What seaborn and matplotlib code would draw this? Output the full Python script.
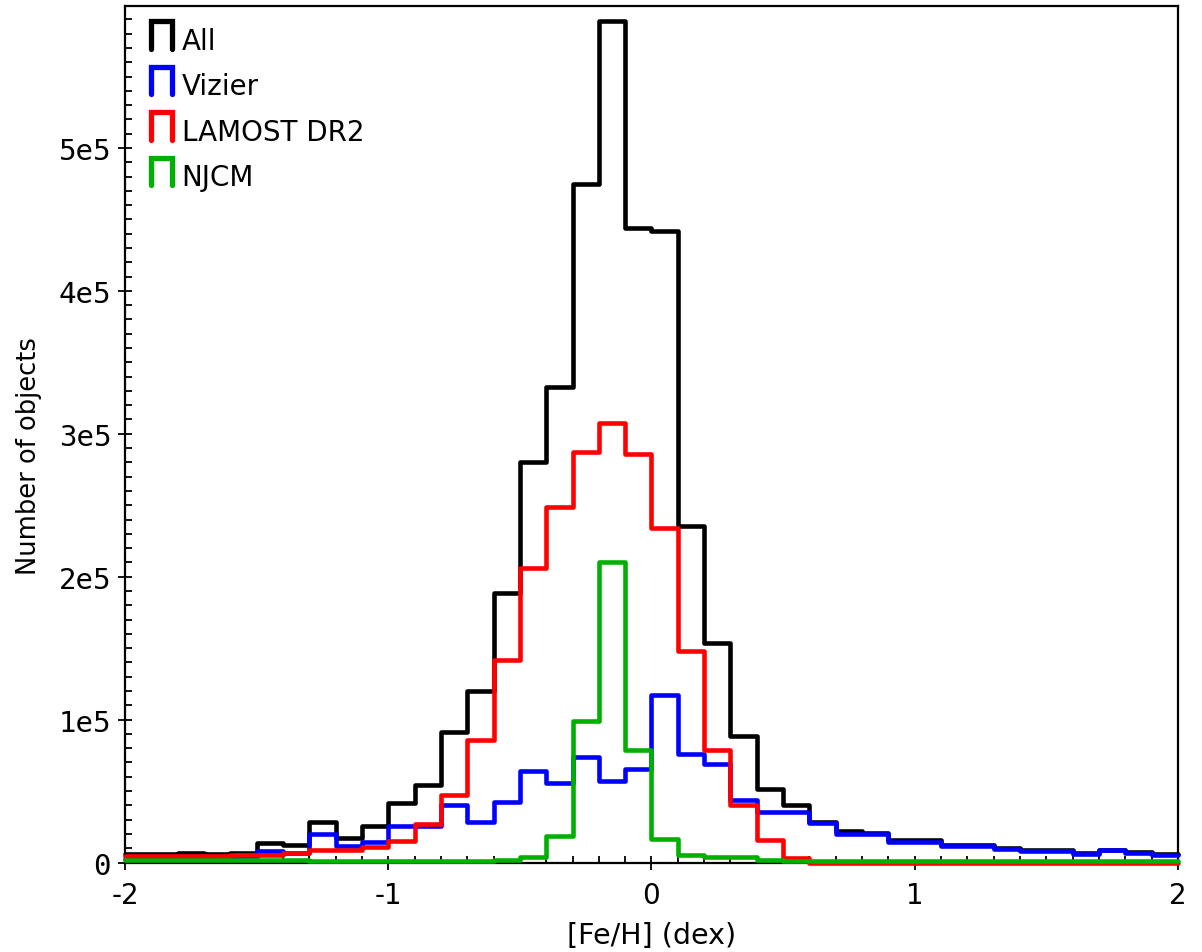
import numpy as np
import pandas as pd
import matplotlib
matplotlib.use("Agg")
import matplotlib.pyplot as plt
import seaborn as sns
from matplotlib.lines import Line2D
from matplotlib.legend_handler import HandlerBase
from matplotlib.ticker import MultipleLocator, FuncFormatter

# [Fe/H] bins: 0.1 dex wide from -2 to 2
bin_width = 0.1
bin_range = (-2.0, 2.0)
bin_centers = np.round(np.arange(-1.95, 2.0, 0.1), 2)

# Counts per bin for each source
all_counts = [5700, 6000, 7000, 5700, 7000, 13700, 12300, 28600, 16900, 25300,
              41700, 54300, 91100, 120000, 188600, 280600, 332600, 475000, 588600, 444000,
              442000, 235300, 153400, 88800, 51500, 40000, 28600, 22000, 20500, 15500,
              15500, 12500, 12500, 10000, 8600, 8600, 6700, 9000, 7500, 5800]
vizier_counts = [2500, 3000, 3000, 3000, 4000, 8300, 6400, 20000, 11800, 14600,
                 25300, 25300, 40200, 28600, 42100, 64300, 55600, 74100, 57300, 65500,
                 117500, 75700, 69200, 43800, 35100, 35100, 27400, 20000, 20000, 14600,
                 14600, 11800, 11800, 9500, 8100, 8100, 6200, 8500, 7000, 5300]
lamost_counts = [4700, 4700, 4700, 4700, 5500, 5500, 7000, 8700, 8700, 10600,
                 15300, 27000, 47300, 86000, 141800, 206000, 248600, 287100, 307700, 286000,
                 234000, 148300, 79000, 40500, 15500, 3400, 0, 0, 0, 0,
                 0, 0, 0, 0, 0, 0, 0, 0, 0, 0]
njcm_counts = [1800, 1800, 1800, 1800, 1800, 1800, 1800, 1000, 1000, 1000,
               1000, 1000, 1000, 1000, 2000, 3600, 18300, 98800, 210000, 79000,
               16400, 5200, 4000, 4000, 2000, 1200, 1000, 1000, 1000, 1000,
               1000, 1000, 1000, 1000, 1000, 1000, 1000, 1000, 1000, 1000]

series_names = ["All", "Vizier", "LAMOST DR2", "NJCM"]
series_counts = [all_counts, vizier_counts, lamost_counts, njcm_counts]
series_colors = ["#000000", "#0000ff", "#ff0000", "#00b000"]

sns.set_style("white")
plt.rcParams["font.family"] = ["DejaVu Sans"]
plt.rcParams["axes.unicode_minus"] = False
plt.rcParams["text.color"] = "black"
plt.rcParams["xtick.color"] = "black"
plt.rcParams["ytick.color"] = "black"
plt.rcParams["axes.labelcolor"] = "black"

fig = plt.figure(figsize=(12.02, 9.53), dpi=100)
ax = fig.add_axes([0.104, 0.0939, 0.876, 0.899])

line_w = 3.3
for name, counts, color in zip(series_names, series_counts, series_colors):
    df = pd.DataFrame({"feh": bin_centers, "n": counts})
    sns.histplot(data=df, x="feh", weights="n", binwidth=bin_width,
                 binrange=bin_range, element="step", fill=False,
                 color=color, linewidth=line_w, zorder=3, clip_on=False, ax=ax)

ax.set_xlim(-2, 2)
ax.set_ylim(0, 5.995e5)

ax.set_xticks([-2, -1, 0, 1, 2])
ax.xaxis.set_minor_locator(MultipleLocator(0.1))
ax.set_yticks(np.arange(0, 5.5e5, 1e5))
ax.yaxis.set_minor_locator(MultipleLocator(1e4))
ax.yaxis.set_major_formatter(
    FuncFormatter(lambda v, p: "0" if v == 0 else f"{int(round(v / 1e5))}e5"))

ax.tick_params(which="major", direction="inout", length=10, width=1.3,
               labelsize=20, colors="black", bottom=True, left=True,
               top=False, right=False, pad=5)
ax.tick_params(which="minor", direction="in", length=5, width=1.3,
               color="black", bottom=True, left=True, top=False, right=False)
ax.tick_params(axis="x", which="major", pad=8)
for lab in ax.get_yticklabels():
    lab.set_fontfamily("DejaVu Sans Mono")
    lab.set_fontsize(21)

for sp in ax.spines.values():
    sp.set_linewidth(1.6)
    sp.set_color("black")

ax.set_xlabel("[Fe/H] (dex)", fontsize=20.5)
ax.set_ylabel("Number of objects", fontsize=18.5)
ax.xaxis.set_label_coords(0.5, -0.068)
ax.yaxis.set_label_coords(-0.079, 0.476)


class StepHandler(HandlerBase):
    """Legend key drawn as an open-bottomed step outline."""

    def create_artists(self, legend, orig_handle, xdescent, ydescent,
                       width, height, fontsize, trans):
        x0, x1 = -xdescent, width - xdescent
        y0, y1 = 0, height - ydescent
        key = Line2D([x0, x0, x1, x1], [y0, y1, y1, y0],
                     color=orig_handle.get_color(),
                     linewidth=orig_handle.get_linewidth(),
                     solid_joinstyle="miter", transform=trans)
        return [key]


handles = [Line2D([], [], color=c, linewidth=3.8) for c in series_colors]
leg = ax.legend(handles, series_names, loc="upper left",
                bbox_to_anchor=(0.0247, 0.982), borderaxespad=0, borderpad=0,
                frameon=False, fontsize=20, handlelength=0.75, handleheight=1.65,
                handletextpad=0.35, labelspacing=0.32,
                handler_map={Line2D: StepHandler()})

fig.savefig("out.png", dpi=100)
